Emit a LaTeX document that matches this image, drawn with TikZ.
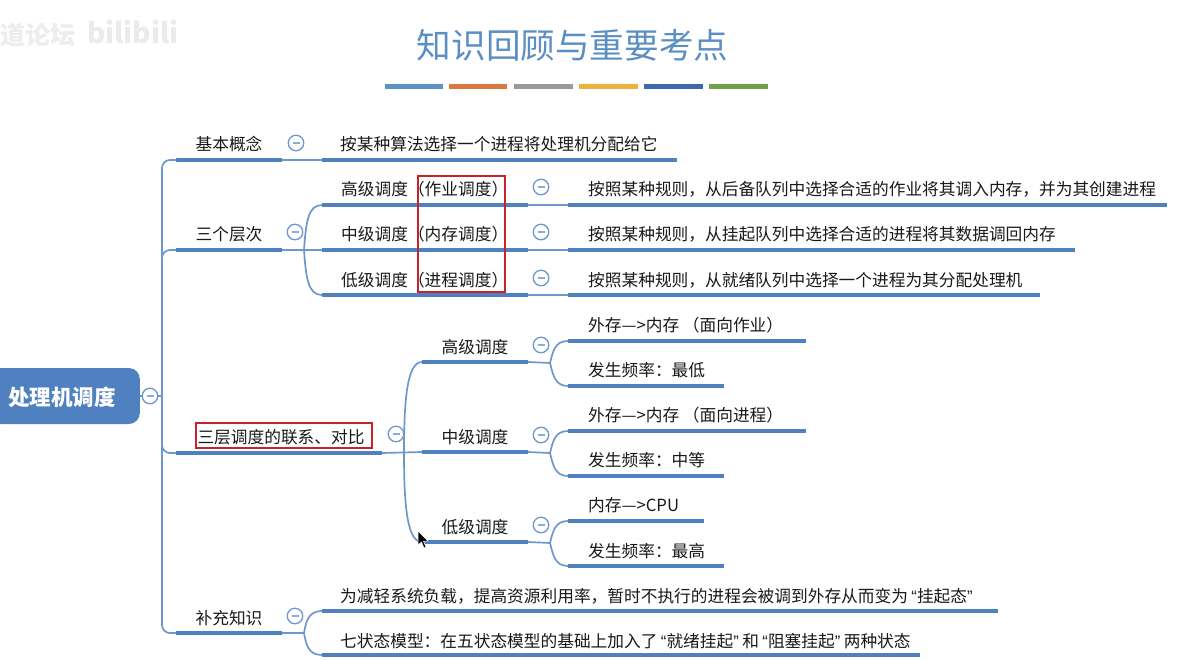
\documentclass[tikz,border=0pt]{standalone}
\usepackage{fontspec}
\setmainfont{Noto Sans CJK SC}
\newfontfamily\quotefont{Liberation Sans}
\newcommand{\qo}{\makebox[9pt][r]{\quotefont “}}
\newcommand{\qc}{\makebox[9pt][l]{\quotefont ”}}
\definecolor{bluebar}{HTML}{4F81C0}
\definecolor{bluethin}{HTML}{6E97CB}
\definecolor{titleblue}{HTML}{5B8FC4}
\definecolor{redbox}{HTML}{C8232B}
\definecolor{deco1}{HTML}{5B93C8}
\definecolor{deco2}{HTML}{D9793F}
\definecolor{deco3}{HTML}{9A9A9A}
\definecolor{deco4}{HTML}{F0B13C}
\definecolor{deco5}{HTML}{3F69AE}
\definecolor{deco6}{HTML}{6FA24A}
\tikzset{
  barline/.style={draw=bluebar,line width=4.5pt},
  linkline/.style={draw=bluethin,line width=1.7pt},
  txt/.style={font=\fontsize{16.7}{19}\selectfont,text=black!90,inner sep=0pt},
  ltxt/.style={txt,anchor=west},
  minus/.style={circle,draw=bluethin,fill=white,line width=1.3pt,minimum size=15.5pt,inner sep=0pt,
    path picture={\draw[bluethin!80,line width=1.1pt] ([xshift=-3.5pt]path picture bounding box.center)--([xshift=3.5pt]path picture bounding box.center);}},
  redrect/.style={draw=redbox,line width=2pt,inner sep=0pt,fill=none},
  decobar/.style={line width=5pt},
}
\newcommand{\mbar}[4]{\coordinate (#1-l) at (#2,#4);\coordinate (#1-r) at (#3,#4);\draw[barline] (#1-l)--(#1-r);}
\begin{document}
\begin{tikzpicture}[x=1pt,y=-1pt]
\useasboundingbox (0,0) rectangle (1185,659);
\fill[white] (0,0) rectangle (1185,659);
% watermark
\node[inner sep=0pt,anchor=west,font=\bfseries\fontsize{25}{27}\selectfont,text=black!7] (wm1) at (0,35) {道论坛};
\node[inner sep=0pt,anchor=west,font=\bfseries\fontsize{28}{30}\selectfont,text=black!8] (wm2) at (87,32) {bilibili};
% title
\node[inner sep=0pt,font=\fontsize{34.6}{38}\selectfont,text=titleblue] (title) at (572.5,45) {知识回顾与重要考点};
\foreach \a/\b/\c in {385/443/deco1,449/507/deco2,514/573/deco3,579/638/deco4,644/703/deco5,709/768/deco6}
  \draw[decobar,\c] (\a,86)--(\b,86);
% root
\node[inner sep=0pt,minimum width=150pt,minimum height=56pt,rounded corners=11pt,fill=bluebar,anchor=east] (root) at (140,396) {};
\node[inner sep=0pt,font=\bfseries\fontsize{21.5}{24}\selectfont,text=white] (rootlabel) at (62,397) {处理机调度};
% level 1 bars
\mbar{a}{176}{282}{160}
\mbar{b}{176}{282}{250}
\mbar{c}{176}{382}{453}
\mbar{d}{176}{282}{633}
% level 2 bars
\mbar{a1}{322}{677}{160}
\mbar{b1}{322}{528}{205}
\mbar{b2}{322}{528}{250}
\mbar{b3}{322}{528}{295}
\mbar{c1}{422}{528}{362}
\mbar{c2}{422}{528}{452}
\mbar{c3}{422}{528}{542}
\mbar{d1}{322}{998}{611}
\mbar{d2}{322}{920}{655}
% level 3 bars
\mbar{b1x}{568}{1167}{205}
\mbar{b2x}{568}{1075}{250}
\mbar{b3x}{568}{1040}{295}
\mbar{c1a}{568}{806}{341}
\mbar{c1b}{568}{724}{386}
\mbar{c2a}{568}{806}{431}
\mbar{c2b}{568}{724}{476}
\mbar{c3a}{568}{704}{521}
\mbar{c3b}{568}{724}{566}
% connectors
\coordinate (trunkmid) at (162,396);
\draw[linkline] (root.east)--(trunkmid);
\draw[linkline,rounded corners=8pt] (a-l)--(162,160)--(162,453)--(c-l);
\draw[linkline,rounded corners=8pt] (b-l)--(162,250)--(162,300);
\draw[linkline,rounded corners=8pt] (162,440)--(162,633)--(d-l);
\draw[linkline] (a-r)--(a1-l);
\draw[linkline] (b-r)--(b2-l);
\draw[linkline] (304,250) .. controls (306,222) and (308,205) .. (b1-l);
\draw[linkline] (304,250) .. controls (306,278) and (308,295) .. (b3-l);
\draw[linkline] (c-r)--(c2-l);
\draw[linkline] (404,453) .. controls (404,400) and (407,362) .. (c1-l);
\draw[linkline] (404,453) .. controls (404,505) and (407,542) .. (c3-l);
\draw[linkline] (304,633) .. controls (306,622) and (308,611) .. (d1-l);
\draw[linkline] (304,633) .. controls (306,644) and (308,655) .. (d2-l);
\draw[linkline] (d-r)--(304,633);
\draw[linkline] (b1-r)--(b1x-l);
\draw[linkline] (b2-r)--(b2x-l);
\draw[linkline] (b3-r)--(b3x-l);
\foreach \p/\u/\v/\y in {c1/c1a/c1b/363,c2/c2a/c2b/453,c3/c3a/c3b/543}{
  \draw[linkline] (\p-r)--(550,\y);
  \draw[linkline] (550,\y) .. controls (553,\y-12) and (555,\y-22) .. (\u-l);
  \draw[linkline] (550,\y) .. controls (553,\y+12) and (555,\y+23) .. (\v-l);
}
% minus circles
\node[minus] (m0) at (150,396) {};
\node[minus] (m1) at (296,143) {};
\node[minus] (m2) at (295,232) {};
\node[minus] (m3) at (396,434) {};
\node[minus] (m4) at (295,616) {};
\node[minus] (m5) at (541,187) {};
\node[minus] (m6) at (541,232) {};
\node[minus] (m7) at (541,278) {};
\node[minus] (m8) at (541,345) {};
\node[minus] (m9) at (541,435) {};
\node[minus] (m10) at (541,525) {};
% texts
\node[txt] (ta) at (229,144) {基本概念};
\node[txt] (tb) at (229,234) {三个层次};
\node[txt] (tc) at (281,437) {三层调度的联系、对比};
\node[txt] (td) at (229,618) {补充知识};
\node[ltxt] (ta1) at (340,144) {按某种算法选择一个进程将处理机分配给它};
\node[ltxt] (tb1) at (341,189) {高级调度（作业调度）};
\node[ltxt] (tb2) at (341,234) {中级调度（内存调度）};
\node[ltxt] (tb3) at (341,280) {低级调度（进程调度）};
\node[ltxt] (tb1x) at (588,189) {按照某种规则，从后备队列中选择合适的作业将其调入内存，并为其创建进程};
\node[ltxt] (tb2x) at (588,234) {按照某种规则，从挂起队列中选择合适的进程将其数据调回内存};
\node[ltxt] (tb3x) at (588,280) {按照某种规则，从就绪队列中选择一个进程为其分配处理机};
\node[txt] (tc1) at (475,347) {高级调度};
\node[txt] (tc2) at (475,437) {中级调度};
\node[txt] (tc3) at (475,527) {低级调度};
\node[ltxt] (tc1a) at (588,325) {外存—>内存 （面向作业）};
\node[ltxt] (tc1b) at (588,370) {发生频率：最低};
\node[ltxt] (tc2a) at (588,415) {外存—>内存 （面向进程）};
\node[ltxt] (tc2b) at (588,460) {发生频率：中等};
\node[ltxt] (tc3a) at (588,505) {内存—>CPU};
\node[ltxt] (tc3b) at (588,551) {发生频率：最高};
\node[ltxt] (td1) at (340,596) {为减轻系统负载，提高资源利用率，暂时不执行的进程会被调到外存从而变为\qo 挂起态\qc};
\node[ltxt] (td2) at (340,641) {七状态模型：在五状态模型的基础上加入了\qo 就绪挂起\qc 和\qo 阻塞挂起\qc 两种状态};
% red boxes
\draw[redrect] (418,176) rectangle (505,292);
\draw[redrect] (196,423) rectangle (372,448);
% cursor
\fill[black,draw=white,line width=.5pt] (418,531)--(418,545)--(421.5,542)--(424,548)--(426,547)--(423.5,541.5)--(428,541)--cycle;
\end{tikzpicture}
\end{document}
